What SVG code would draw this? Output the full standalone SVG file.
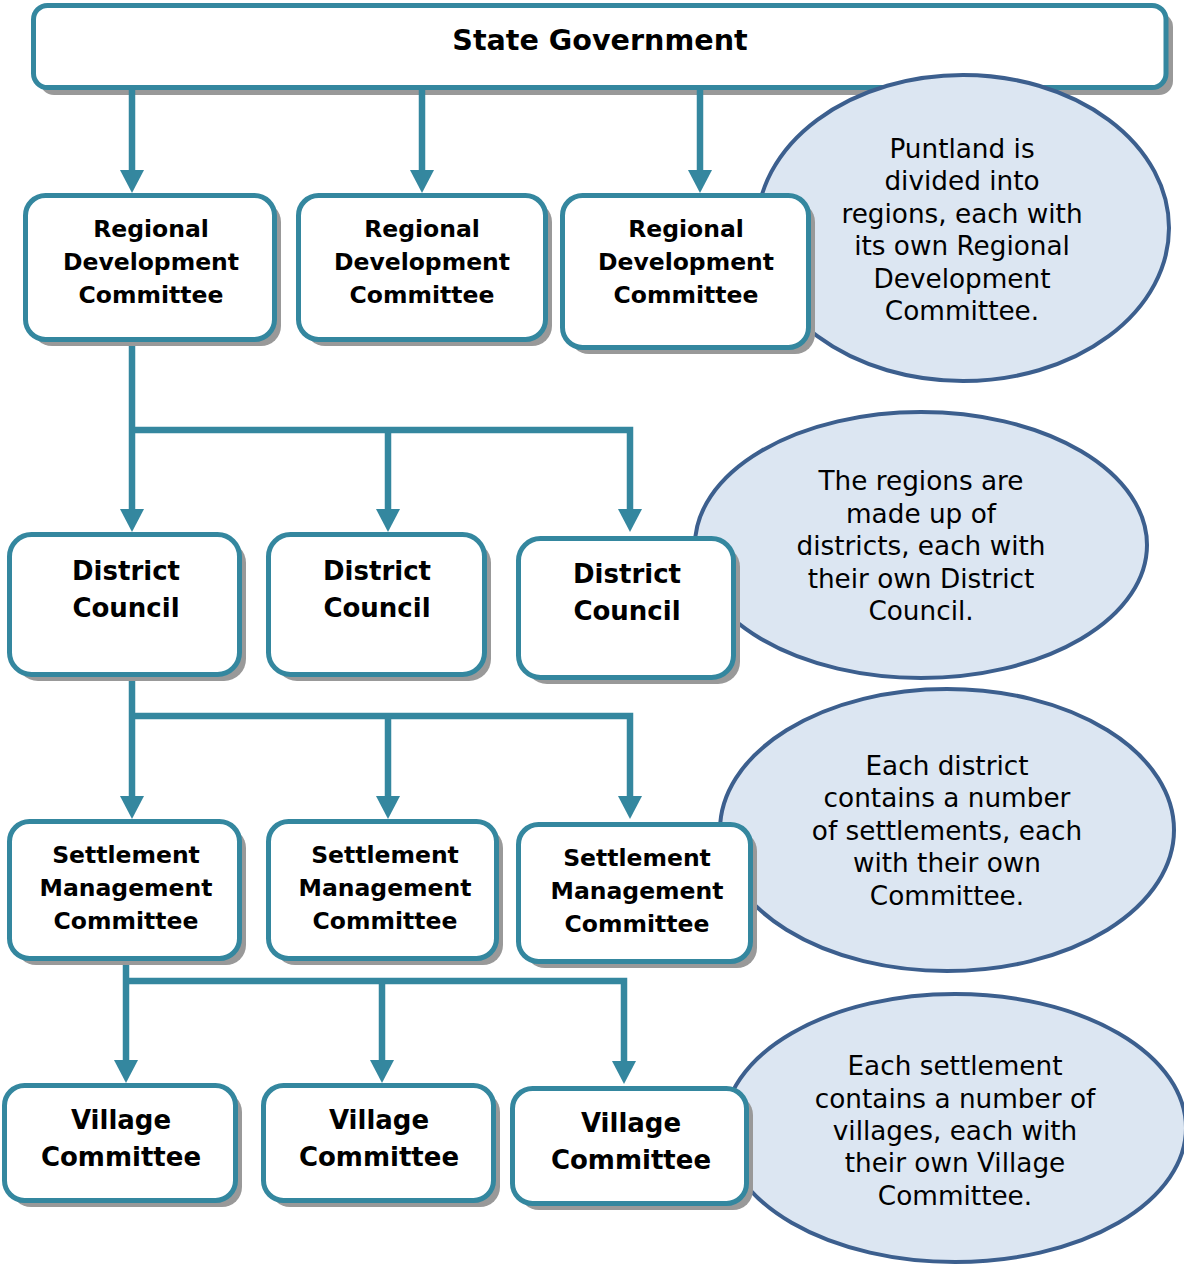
<svg xmlns="http://www.w3.org/2000/svg" width="1184" height="1266" viewBox="0 0 1184 1266">
<style>
.box{fill:#fff;stroke:#34879f;stroke-width:5}
.sh{fill:#999}
.ell{fill:#dce6f2;stroke:#3c5f8e;stroke-width:4}
.conn{fill:none;stroke:#34879f;stroke-width:6.5}
.b{font-family:"DejaVu Sans","Verdana",sans-serif;font-weight:bold;fill:#000;text-anchor:middle}
.r{font-family:"DejaVu Sans","Verdana",sans-serif;font-size:26.3px;fill:#000;text-anchor:middle}
.f23{font-size:23.5px}
.f26{font-size:26px}
</style>
<defs>
<marker id="ah" markerUnits="userSpaceOnUse" markerWidth="24" markerHeight="24" refX="12" refY="12" orient="auto" viewBox="0 0 24 24">
<path d="M0,0 L23,12 L0,24 z" fill="#34879f"/>
</marker>
</defs>

<g id="state-government">
<rect class="sh" x="40" y="13" width="1133" height="82" rx="14"/>
<rect class="box" x="33.5" y="5.5" width="1132.5" height="82" rx="14"/>
<text class="b" x="600" y="50" font-size="28.6">State Government</text>
</g>

<g id="note-regions">
<ellipse class="ell" cx="963" cy="228" rx="206" ry="153"/>
<text class="r"><tspan x="962" y="158">Puntland is</tspan><tspan x="962" y="190">divided into</tspan><tspan x="962" y="223">regions, each with</tspan><tspan x="962" y="255">its own Regional</tspan><tspan x="962" y="288">Development</tspan><tspan x="962" y="320">Committee.</tspan></text>
</g>

<g id="connectors">
<path class="conn" d="M132,88 V182" marker-end="url(#ah)"/>
<path class="conn" d="M422,88 V182" marker-end="url(#ah)"/>
<path class="conn" d="M700,88 V182" marker-end="url(#ah)"/>
<path class="conn" d="M132,340 V521" marker-end="url(#ah)"/>
<path class="conn" d="M132,430 H630 V521" marker-end="url(#ah)"/>
<path class="conn" d="M388,430 V521" marker-end="url(#ah)"/>
<path class="conn" d="M132,676 V808" marker-end="url(#ah)"/>
<path class="conn" d="M132,716 H630 V808" marker-end="url(#ah)"/>
<path class="conn" d="M388,716 V808" marker-end="url(#ah)"/>
<path class="conn" d="M126,960 V1072" marker-end="url(#ah)"/>
<path class="conn" d="M126,981 H624 V1073" marker-end="url(#ah)"/>
<path class="conn" d="M382,981 V1072" marker-end="url(#ah)"/>
</g>

<g id="rdc-1">
<rect class="sh" x="32" y="202" width="249" height="144" rx="20"/>
<rect class="box" x="25.5" y="195.5" width="249" height="144" rx="20"/>
<text class="b f23"><tspan x="151" y="237">Regional</tspan><tspan x="151" y="270">Development</tspan><tspan x="151" y="303">Committee</tspan></text>
</g>
<g id="rdc-2">
<rect class="sh" x="305" y="202" width="247" height="144" rx="20"/>
<rect class="box" x="298.5" y="195.5" width="247" height="144" rx="20"/>
<text class="b f23"><tspan x="422" y="237">Regional</tspan><tspan x="422" y="270">Development</tspan><tspan x="422" y="303">Committee</tspan></text>
</g>
<g id="rdc-3">
<rect class="sh" x="569" y="202" width="246" height="152" rx="20"/>
<rect class="box" x="562.5" y="195.5" width="246" height="152" rx="20"/>
<text class="b f23"><tspan x="686" y="237">Regional</tspan><tspan x="686" y="270">Development</tspan><tspan x="686" y="303">Committee</tspan></text>
</g>

<g id="note-districts">
<ellipse class="ell" cx="921" cy="545" rx="226" ry="133"/>
<text class="r"><tspan x="921" y="490">The regions are</tspan><tspan x="921" y="523">made up of</tspan><tspan x="921" y="555">districts, each with</tspan><tspan x="921" y="588">their own District</tspan><tspan x="921" y="620">Council.</tspan></text>
</g>

<g id="dc-1">
<rect class="sh" x="16" y="541" width="230" height="140" rx="22"/>
<rect class="box" x="9.5" y="534.5" width="230" height="140" rx="22"/>
<text class="b f26"><tspan x="126" y="580">District</tspan><tspan x="126" y="617">Council</tspan></text>
</g>
<g id="dc-2">
<rect class="sh" x="275" y="541" width="216" height="140" rx="22"/>
<rect class="box" x="268.5" y="534.5" width="216" height="140" rx="22"/>
<text class="b f26"><tspan x="377" y="580">District</tspan><tspan x="377" y="617">Council</tspan></text>
</g>
<g id="dc-3">
<rect class="sh" x="525" y="545" width="215" height="139" rx="22"/>
<rect class="box" x="518.5" y="538.5" width="215" height="139" rx="22"/>
<text class="b f26"><tspan x="627" y="583">District</tspan><tspan x="627" y="620">Council</tspan></text>
</g>

<g id="note-settlements">
<ellipse class="ell" cx="947" cy="830" rx="227" ry="141"/>
<text class="r"><tspan x="947" y="775">Each district</tspan><tspan x="947" y="807">contains a number</tspan><tspan x="947" y="840">of settlements, each</tspan><tspan x="947" y="872">with their own</tspan><tspan x="947" y="905">Committee.</tspan></text>
</g>

<g id="smc-1">
<rect class="sh" x="16" y="828" width="230" height="137" rx="20"/>
<rect class="box" x="9.5" y="821.5" width="230" height="137" rx="20"/>
<text class="b f23"><tspan x="126" y="863">Settlement</tspan><tspan x="126" y="896">Management</tspan><tspan x="126" y="929">Committee</tspan></text>
</g>
<g id="smc-2">
<rect class="sh" x="275" y="828" width="228" height="137" rx="20"/>
<rect class="box" x="268.5" y="821.5" width="228" height="137" rx="20"/>
<text class="b f23"><tspan x="385" y="863">Settlement</tspan><tspan x="385" y="896">Management</tspan><tspan x="385" y="929">Committee</tspan></text>
</g>
<g id="smc-3">
<rect class="sh" x="525" y="831" width="232" height="137" rx="20"/>
<rect class="box" x="518.5" y="824.5" width="232" height="137" rx="20"/>
<text class="b f23"><tspan x="637" y="866">Settlement</tspan><tspan x="637" y="899">Management</tspan><tspan x="637" y="932">Committee</tspan></text>
</g>

<g id="note-villages">
<ellipse class="ell" cx="955" cy="1128" rx="231" ry="134"/>
<text class="r"><tspan x="955" y="1075">Each settlement</tspan><tspan x="955" y="1108">contains a number of</tspan><tspan x="955" y="1140">villages, each with</tspan><tspan x="955" y="1172">their own Village</tspan><tspan x="955" y="1205">Committee.</tspan></text>
</g>

<g id="vc-1">
<rect class="sh" x="11" y="1092" width="231" height="115" rx="20"/>
<rect class="box" x="4.5" y="1085.5" width="231" height="115" rx="20"/>
<text class="b f26"><tspan x="121" y="1129">Village</tspan><tspan x="121" y="1166">Committee</tspan></text>
</g>
<g id="vc-2">
<rect class="sh" x="270" y="1092" width="230" height="115" rx="20"/>
<rect class="box" x="263.5" y="1085.5" width="230" height="115" rx="20"/>
<text class="b f26"><tspan x="379" y="1129">Village</tspan><tspan x="379" y="1166">Committee</tspan></text>
</g>
<g id="vc-3">
<rect class="sh" x="519" y="1095" width="234" height="115" rx="20"/>
<rect class="box" x="512.5" y="1088.5" width="234" height="115" rx="20"/>
<text class="b f26"><tspan x="631" y="1132">Village</tspan><tspan x="631" y="1169">Committee</tspan></text>
</g>
</svg>
